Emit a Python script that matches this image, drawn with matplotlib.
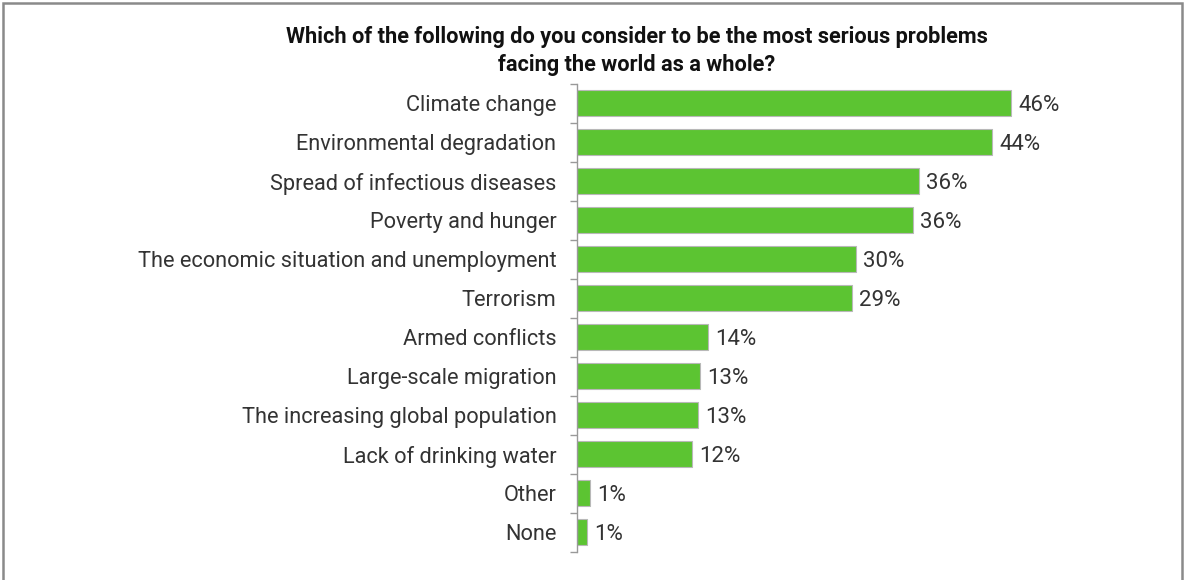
import matplotlib
matplotlib.use("Agg")
import matplotlib.pyplot as plt
from matplotlib.patches import Rectangle

categories = ["Climate change", "Environmental degradation", "Spread of infectious diseases",
              "Poverty and hunger", "The economic situation and unemployment", "Terrorism",
              "Armed conflicts", "Large-scale migration", "The increasing global population",
              "Lack of drinking water", "Other", "None"]
values = [46.0, 44.0, 36.2, 35.6, 29.6, 29.1, 13.9, 13.0, 12.8, 12.2, 1.35, 1.06]
value_labels = ["46%", "44%", "36%", "36%", "30%", "29%", "14%", "13%", "13%", "12%", "1%", "1%"]
title = "Which of the following do you consider to be the most serious problems\nfacing the world as a whole?"

plt.rcParams['font.family'] = ['Roboto', 'DejaVu Sans']
W, H = 1184, 580
fig = plt.figure(figsize=(W/100, H/100), dpi=100)

ax_left = 577.3 / W
ax_right = (577.3 + 9.43 * 50) / W
ax_top = (580 - 83.5) / H
ax_bottom = (580 - 551.5) / H
ax = fig.add_axes([ax_left, ax_bottom, ax_right - ax_left, ax_top - ax_bottom])

ypos = list(range(len(categories)))
ax.barh(ypos, values, height=0.67, color="#5cc432", edgecolor="#b8b8b8", linewidth=0.8)
ax.set_xlim(0, 50)
ax.set_ylim(len(categories) - 0.5, -0.5)

for y, v, lab in zip(ypos, values, value_labels):
    ax.annotate(lab, (v, y), xytext=(5, -1.5), textcoords="offset points",
                va="center", ha="left", fontsize=16, color="#333333")

ax.set_yticks(ypos)
ax.set_yticklabels(categories, fontsize=15.7, color="#333333")
ax.tick_params(axis="y", which="major", length=0, pad=15)
ax.set_yticks([i - 0.5 for i in range(len(categories) + 1)], minor=True)
ax.tick_params(axis="y", which="minor", length=5, color="#999999", width=1)
ax.set_xticks([])
for s in ["top", "right", "bottom"]:
    ax.spines[s].set_visible(False)
ax.spines["left"].set_color("#999999")
ax.spines["left"].set_linewidth(1)

fig.text(637 / W, 1 - 51 / H, title, ha="center", va="center", fontsize=15.7,
         fontweight="bold", color="#111111", linespacing=1.3)

fig.patches.append(Rectangle((2.5 / W, -0.1), (1182 - 2.5) / W, 1.1 - 2.5 / H,
                             transform=fig.transFigure, fill=False, edgecolor="#8a8a8a",
                             linewidth=1.8, figure=fig))

fig.savefig("out.png", dpi=100, facecolor="white")
